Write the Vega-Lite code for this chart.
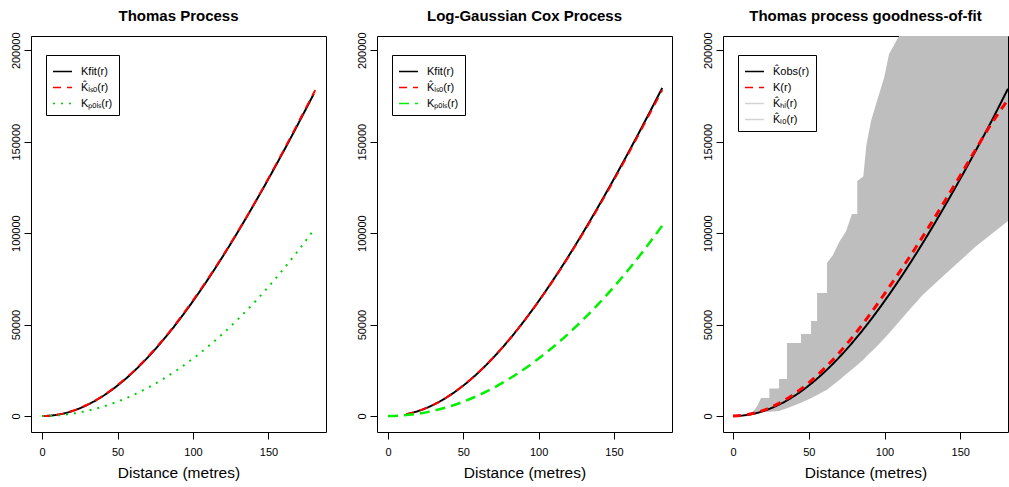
{
  "$schema": "https://vega.github.io/schema/vega-lite/v6.json",
  "padding": {"left": 9, "top": 8, "right": 0, "bottom": 0},
  "background": "white",
  "spacing": 51,
  "bounds": "flush",
  "resolve": {
    "scale": {"color": "independent", "strokeDash": "independent", "x": "independent", "y": "independent"},
    "legend": {"color": "independent", "strokeDash": "independent"}
  },
  "config": {
    "font": "Liberation Sans",
    "view": {"stroke": "#000", "strokeWidth": 1},
    "axis": {
      "domain": false, "grid": false, "ticks": true, "tickColor": "#000", "tickSize": 7, "tickWidth": 1,
      "labelColor": "#000", "labelFont": "Liberation Sans", "labelFontSize": 11,
      "titleFont": "Liberation Sans", "titleFontWeight": "normal", "titleFontSize": 15.5, "titleColor": "#000"
    },
    "axisY": {"labelAngle": 270, "labelAlign": "center", "labelBaseline": "bottom", "labelPadding": 3},
    "axisX": {"labelPadding": 7, "titlePadding": 8},
    "title": {"fontSize": 15, "fontWeight": "bold", "color": "#000", "offset": 8, "font": "Liberation Sans"},
    "legend": {
      "orient": "none", "legendX": 15, "legendY": 19, "strokeColor": "#000", "fillColor": "white", "padding": 6,
      "symbolType": "stroke", "symbolSize": 361, "symbolStrokeWidth": 1.5, "labelFontSize": 11,
      "labelColor": "#000", "labelFont": "Liberation Sans", "rowPadding": -3, "labelOffset": 8, "cornerRadius": 0
    }
  },
  "datasets": {
    "thomas": [
      {"r": 0, "K": 0, "s": "Kfit(r)"}, {"r": 5, "K": 170, "s": "Kfit(r)"}, {"r": 10, "K": 679, "s": "Kfit(r)"}, {"r": 15, "K": 1528, "s": "Kfit(r)"}, {"r": 20, "K": 2712, "s": "Kfit(r)"}, {"r": 30, "K": 6075, "s": "Kfit(r)"}, {"r": 40, "K": 10738, "s": "Kfit(r)"}, {"r": 50, "K": 16654, "s": "Kfit(r)"}, {"r": 60, "K": 23768, "s": "Kfit(r)"}, {"r": 70, "K": 32016, "s": "Kfit(r)"}, {"r": 80, "K": 41326, "s": "Kfit(r)"}, {"r": 90, "K": 51625, "s": "Kfit(r)"}, {"r": 100, "K": 62832, "s": "Kfit(r)"}, {"r": 110, "K": 74854, "s": "Kfit(r)"}, {"r": 120, "K": 87620, "s": "Kfit(r)"}, {"r": 130, "K": 101073, "s": "Kfit(r)"}, {"r": 140, "K": 115131, "s": "Kfit(r)"}, {"r": 150, "K": 129712, "s": "Kfit(r)"}, {"r": 160, "K": 144783, "s": "Kfit(r)"}, {"r": 170, "K": 160283, "s": "Kfit(r)"}, {"r": 180, "K": 176168, "s": "Kfit(r)"},
      {"r": 0, "K": 0, "s": "K̂ᵢₛₒ(r)"}, {"r": 5, "K": 180, "s": "K̂ᵢₛₒ(r)"}, {"r": 10, "K": 700, "s": "K̂ᵢₛₒ(r)"}, {"r": 15, "K": 1560, "s": "K̂ᵢₛₒ(r)"}, {"r": 20, "K": 2750, "s": "K̂ᵢₛₒ(r)"}, {"r": 30, "K": 6150, "s": "K̂ᵢₛₒ(r)"}, {"r": 40, "K": 10850, "s": "K̂ᵢₛₒ(r)"}, {"r": 50, "K": 16900, "s": "K̂ᵢₛₒ(r)"}, {"r": 60, "K": 24000, "s": "K̂ᵢₛₒ(r)"}, {"r": 70, "K": 32300, "s": "K̂ᵢₛₒ(r)"}, {"r": 80, "K": 41600, "s": "K̂ᵢₛₒ(r)"}, {"r": 90, "K": 52000, "s": "K̂ᵢₛₒ(r)"}, {"r": 100, "K": 63300, "s": "K̂ᵢₛₒ(r)"}, {"r": 110, "K": 75200, "s": "K̂ᵢₛₒ(r)"}, {"r": 120, "K": 87900, "s": "K̂ᵢₛₒ(r)"}, {"r": 130, "K": 101300, "s": "K̂ᵢₛₒ(r)"}, {"r": 140, "K": 115300, "s": "K̂ᵢₛₒ(r)"}, {"r": 150, "K": 130000, "s": "K̂ᵢₛₒ(r)"}, {"r": 160, "K": 145200, "s": "K̂ᵢₛₒ(r)"}, {"r": 170, "K": 160900, "s": "K̂ᵢₛₒ(r)"}, {"r": 181, "K": 178200, "s": "K̂ᵢₛₒ(r)"},
      {"r": 0, "K": 0, "s": "Kₚₒᵢₛ(r)"}, {"r": 10, "K": 314, "s": "Kₚₒᵢₛ(r)"}, {"r": 20, "K": 1257, "s": "Kₚₒᵢₛ(r)"}, {"r": 30, "K": 2827, "s": "Kₚₒᵢₛ(r)"}, {"r": 40, "K": 5027, "s": "Kₚₒᵢₛ(r)"}, {"r": 50, "K": 7854, "s": "Kₚₒᵢₛ(r)"}, {"r": 60, "K": 11310, "s": "Kₚₒᵢₛ(r)"}, {"r": 70, "K": 15394, "s": "Kₚₒᵢₛ(r)"}, {"r": 80, "K": 20106, "s": "Kₚₒᵢₛ(r)"}, {"r": 90, "K": 25447, "s": "Kₚₒᵢₛ(r)"}, {"r": 100, "K": 31416, "s": "Kₚₒᵢₛ(r)"}, {"r": 110, "K": 38013, "s": "Kₚₒᵢₛ(r)"}, {"r": 120, "K": 45239, "s": "Kₚₒᵢₛ(r)"}, {"r": 130, "K": 53093, "s": "Kₚₒᵢₛ(r)"}, {"r": 140, "K": 61575, "s": "Kₚₒᵢₛ(r)"}, {"r": 150, "K": 70686, "s": "Kₚₒᵢₛ(r)"}, {"r": 160, "K": 80425, "s": "Kₚₒᵢₛ(r)"}, {"r": 170, "K": 90792, "s": "Kₚₒᵢₛ(r)"}, {"r": 180, "K": 101788, "s": "Kₚₒᵢₛ(r)"}
    ],
    "lgcp": [
      {"r": 12, "K": 978, "s": "Kfit(r)"}, {"r": 15, "K": 1528, "s": "Kfit(r)"}, {"r": 20, "K": 2712, "s": "Kfit(r)"}, {"r": 30, "K": 6075, "s": "Kfit(r)"}, {"r": 40, "K": 10738, "s": "Kfit(r)"}, {"r": 50, "K": 16654, "s": "Kfit(r)"}, {"r": 60, "K": 23768, "s": "Kfit(r)"}, {"r": 70, "K": 32016, "s": "Kfit(r)"}, {"r": 80, "K": 41326, "s": "Kfit(r)"}, {"r": 90, "K": 51625, "s": "Kfit(r)"}, {"r": 100, "K": 62832, "s": "Kfit(r)"}, {"r": 110, "K": 74854, "s": "Kfit(r)"}, {"r": 120, "K": 87620, "s": "Kfit(r)"}, {"r": 130, "K": 101073, "s": "Kfit(r)"}, {"r": 140, "K": 115131, "s": "Kfit(r)"}, {"r": 150, "K": 129712, "s": "Kfit(r)"}, {"r": 160, "K": 144783, "s": "Kfit(r)"}, {"r": 170, "K": 160283, "s": "Kfit(r)"}, {"r": 182, "K": 179360, "s": "Kfit(r)"},
      {"r": 12, "K": 1050, "s": "K̂ᵢₛₒ(r)"}, {"r": 15, "K": 1560, "s": "K̂ᵢₛₒ(r)"}, {"r": 20, "K": 2750, "s": "K̂ᵢₛₒ(r)"}, {"r": 30, "K": 6100, "s": "K̂ᵢₛₒ(r)"}, {"r": 40, "K": 10800, "s": "K̂ᵢₛₒ(r)"}, {"r": 50, "K": 16750, "s": "K̂ᵢₛₒ(r)"}, {"r": 60, "K": 23850, "s": "K̂ᵢₛₒ(r)"}, {"r": 70, "K": 32100, "s": "K̂ᵢₛₒ(r)"}, {"r": 80, "K": 41350, "s": "K̂ᵢₛₒ(r)"}, {"r": 90, "K": 51600, "s": "K̂ᵢₛₒ(r)"}, {"r": 100, "K": 62700, "s": "K̂ᵢₛₒ(r)"}, {"r": 110, "K": 74600, "s": "K̂ᵢₛₒ(r)"}, {"r": 120, "K": 87300, "s": "K̂ᵢₛₒ(r)"}, {"r": 130, "K": 100600, "s": "K̂ᵢₛₒ(r)"}, {"r": 140, "K": 114600, "s": "K̂ᵢₛₒ(r)"}, {"r": 150, "K": 129100, "s": "K̂ᵢₛₒ(r)"}, {"r": 160, "K": 144100, "s": "K̂ᵢₛₒ(r)"}, {"r": 170, "K": 159500, "s": "K̂ᵢₛₒ(r)"}, {"r": 182, "K": 178200, "s": "K̂ᵢₛₒ(r)"},
      {"r": 0, "K": 0, "s": "Kₚₒᵢₛ(r)"}, {"r": 10, "K": 314, "s": "Kₚₒᵢₛ(r)"}, {"r": 20, "K": 1257, "s": "Kₚₒᵢₛ(r)"}, {"r": 30, "K": 2827, "s": "Kₚₒᵢₛ(r)"}, {"r": 40, "K": 5027, "s": "Kₚₒᵢₛ(r)"}, {"r": 50, "K": 7854, "s": "Kₚₒᵢₛ(r)"}, {"r": 60, "K": 11310, "s": "Kₚₒᵢₛ(r)"}, {"r": 70, "K": 15394, "s": "Kₚₒᵢₛ(r)"}, {"r": 80, "K": 20106, "s": "Kₚₒᵢₛ(r)"}, {"r": 90, "K": 25447, "s": "Kₚₒᵢₛ(r)"}, {"r": 100, "K": 31416, "s": "Kₚₒᵢₛ(r)"}, {"r": 110, "K": 38013, "s": "Kₚₒᵢₛ(r)"}, {"r": 120, "K": 45239, "s": "Kₚₒᵢₛ(r)"}, {"r": 130, "K": 53093, "s": "Kₚₒᵢₛ(r)"}, {"r": 140, "K": 61575, "s": "Kₚₒᵢₛ(r)"}, {"r": 150, "K": 70686, "s": "Kₚₒᵢₛ(r)"}, {"r": 160, "K": 80425, "s": "Kₚₒᵢₛ(r)"}, {"r": 170, "K": 90792, "s": "Kₚₒᵢₛ(r)"}, {"r": 182, "K": 104062, "s": "Kₚₒᵢₛ(r)"}
    ],
    "gof": [
      {"r": 0, "K": 0, "s": "K̂obs(r)"}, {"r": 5, "K": 170, "s": "K̂obs(r)"}, {"r": 10, "K": 679, "s": "K̂obs(r)"}, {"r": 15, "K": 1528, "s": "K̂obs(r)"}, {"r": 20, "K": 2712, "s": "K̂obs(r)"}, {"r": 30, "K": 6075, "s": "K̂obs(r)"}, {"r": 40, "K": 10738, "s": "K̂obs(r)"}, {"r": 50, "K": 16654, "s": "K̂obs(r)"}, {"r": 60, "K": 23768, "s": "K̂obs(r)"}, {"r": 70, "K": 32016, "s": "K̂obs(r)"}, {"r": 80, "K": 41326, "s": "K̂obs(r)"}, {"r": 90, "K": 51625, "s": "K̂obs(r)"}, {"r": 100, "K": 62832, "s": "K̂obs(r)"}, {"r": 110, "K": 74854, "s": "K̂obs(r)"}, {"r": 120, "K": 87620, "s": "K̂obs(r)"}, {"r": 130, "K": 101073, "s": "K̂obs(r)"}, {"r": 140, "K": 115131, "s": "K̂obs(r)"}, {"r": 150, "K": 129712, "s": "K̂obs(r)"}, {"r": 160, "K": 144783, "s": "K̂obs(r)"}, {"r": 170, "K": 160283, "s": "K̂obs(r)"}, {"r": 181.5, "K": 179000, "s": "K̂obs(r)"},
      {"r": 0, "K": 0, "s": "K(r)"}, {"r": 10, "K": 779, "s": "K(r)"}, {"r": 20, "K": 3112, "s": "K(r)"}, {"r": 30, "K": 6775, "s": "K(r)"}, {"r": 40, "K": 11738, "s": "K(r)"}, {"r": 50, "K": 18154, "s": "K(r)"}, {"r": 60, "K": 25768, "s": "K(r)"}, {"r": 70, "K": 34516, "s": "K(r)"}, {"r": 80, "K": 44326, "s": "K(r)"}, {"r": 90, "K": 55125, "s": "K(r)"}, {"r": 100, "K": 66832, "s": "K(r)"}, {"r": 110, "K": 78854, "s": "K(r)"}, {"r": 120, "K": 91320, "s": "K(r)"}, {"r": 130, "K": 104373, "s": "K(r)"}, {"r": 140, "K": 117831, "s": "K(r)"}, {"r": 150, "K": 131512, "s": "K(r)"}, {"r": 160, "K": 145483, "s": "K(r)"}, {"r": 170, "K": 159083, "s": "K(r)"}, {"r": 181.5, "K": 173000, "s": "K(r)"}
    ],
    "env": [
      {"r": 12.5, "lo": 1600, "hi": 1600}, {"r": 16, "lo": 1800, "hi": 5500}, {"r": 18.5, "lo": 1950, "hi": 9800}, {"r": 24, "lo": 2300, "hi": 9800}, {"r": 24, "lo": 2300, "hi": 15000}, {"r": 30.4, "lo": 2750, "hi": 15000}, {"r": 30.4, "lo": 2750, "hi": 20200}, {"r": 35.6, "lo": 4300, "hi": 20200}, {"r": 35.6, "lo": 4300, "hi": 39900}, {"r": 44.9, "lo": 7200, "hi": 39900}, {"r": 44.9, "lo": 7200, "hi": 44800}, {"r": 51.5, "lo": 9700, "hi": 44800}, {"r": 51.5, "lo": 9700, "hi": 52000}, {"r": 55.5, "lo": 11500, "hi": 52000}, {"r": 55.5, "lo": 11500, "hi": 67300}, {"r": 62, "lo": 14300, "hi": 67300}, {"r": 62, "lo": 14300, "hi": 83700}, {"r": 66, "lo": 17000, "hi": 88000}, {"r": 70, "lo": 19500, "hi": 95000}, {"r": 74.6, "lo": 22800, "hi": 101000}, {"r": 78.5, "lo": 25400, "hi": 110500}, {"r": 82, "lo": 27900, "hi": 110500}, {"r": 82, "lo": 27900, "hi": 128500}, {"r": 86, "lo": 30800, "hi": 131000}, {"r": 88, "lo": 32500, "hi": 148000}, {"r": 91.1, "lo": 35000, "hi": 161300}, {"r": 95, "lo": 38200, "hi": 172300}, {"r": 99.7, "lo": 42200, "hi": 184900}, {"r": 103, "lo": 45300, "hi": 198000}, {"r": 109.6, "lo": 51600, "hi": 207800}, {"r": 115, "lo": 56700, "hi": 225000}, {"r": 125, "lo": 66000, "hi": 250000}, {"r": 140, "lo": 77500, "hi": 280000}, {"r": 160, "lo": 92500, "hi": 310000}, {"r": 181.5, "lo": 106600, "hi": 340000}
    ]
  },
  "hconcat": [
    {
      "width": 295, "height": 396,
      "title": {"text": "Thomas Process"},
      "data": {"name": "thomas"},
      "encoding": {
        "x": {"field": "r", "type": "quantitative", "scale": {"domain": [-7.3, 188.1], "nice": false, "zero": false}, "axis": {"values": [0, 50, 100, 150], "title": "Distance (metres)"}},
        "y": {"field": "K", "type": "quantitative", "scale": {"domain": [-8750, 207800], "nice": false, "zero": false}, "axis": {"values": [0, 50000, 100000, 150000, 200000], "format": "d", "title": null}},
        "color": {"field": "s", "type": "nominal", "scale": {"domain": ["Kfit(r)", "K̂ᵢₛₒ(r)", "Kₚₒᵢₛ(r)"], "range": ["#000000", "#ff0000", "#00d000"]}, "legend": {"title": null}},
        "strokeDash": {"field": "s", "type": "nominal", "scale": {"domain": ["Kfit(r)", "K̂ᵢₛₒ(r)", "Kₚₒᵢₛ(r)"], "range": [[1, 0], [8, 6], [2, 6]]}, "legend": {"title": null}}
      },
      "layer": [
        {"transform": [{"filter": "datum.s === 'Kfit(r)'"}], "mark": {"type": "line", "strokeWidth": 2, "clip": true, "interpolate": "monotone"}},
        {"transform": [{"filter": "datum.s === 'K̂ᵢₛₒ(r)'"}], "mark": {"type": "line", "strokeWidth": 2, "clip": true, "interpolate": "monotone"}},
        {"transform": [{"filter": "datum.s === 'Kₚₒᵢₛ(r)'"}], "mark": {"type": "line", "strokeWidth": 2, "clip": true, "interpolate": "monotone"}}
      ]
    },
    {
      "width": 295, "height": 396,
      "title": {"text": "Log-Gaussian Cox Process"},
      "data": {"name": "lgcp"},
      "encoding": {
        "x": {"field": "r", "type": "quantitative", "scale": {"domain": [-7.3, 188.5], "nice": false, "zero": false}, "axis": {"values": [0, 50, 100, 150], "title": "Distance (metres)"}},
        "y": {"field": "K", "type": "quantitative", "scale": {"domain": [-8750, 207800], "nice": false, "zero": false}, "axis": {"values": [0, 50000, 100000, 150000, 200000], "format": "d", "title": null}},
        "color": {"field": "s", "type": "nominal", "scale": {"domain": ["Kfit(r)", "K̂ᵢₛₒ(r)", "Kₚₒᵢₛ(r)"], "range": ["#000000", "#ff0000", "#00f000"]}, "legend": {"title": null}},
        "strokeDash": {"field": "s", "type": "nominal", "scale": {"domain": ["Kfit(r)", "K̂ᵢₛₒ(r)", "Kₚₒᵢₛ(r)"], "range": [[1, 0], [8, 6], [10, 6]]}, "legend": {"title": null}}
      },
      "layer": [
        {"transform": [{"filter": "datum.s === 'Kfit(r)'"}], "mark": {"type": "line", "strokeWidth": 2, "clip": true, "interpolate": "monotone"}},
        {"transform": [{"filter": "datum.s === 'K̂ᵢₛₒ(r)'"}], "mark": {"type": "line", "strokeWidth": 2, "clip": true, "interpolate": "monotone"}},
        {"transform": [{"filter": "datum.s === 'Kₚₒᵢₛ(r)'"}], "mark": {"type": "line", "strokeWidth": 2.5, "clip": true, "interpolate": "monotone"}}
      ]
    },
    {
      "width": 285, "height": 396,
      "title": {"text": "Thomas process goodness-of-fit"},
      "layer": [
        {
          "data": {"name": "env"},
          "mark": {"type": "area", "color": "#bebebe", "opacity": 1, "clip": true},
          "encoding": {
            "x": {"field": "r", "type": "quantitative", "scale": {"domain": [-6.6, 181.5], "nice": false, "zero": false}, "axis": {"values": [0, 50, 100, 150], "title": "Distance (metres)"}},
            "y": {"field": "hi", "type": "quantitative", "scale": {"domain": [-8750, 207800], "nice": false, "zero": false}, "axis": {"values": [0, 50000, 100000, 150000, 200000], "format": "d", "title": null}},
            "y2": {"field": "lo"}
          }
        },
        {
          "data": {"name": "gof"},
          "encoding": {
            "x": {"field": "r", "type": "quantitative"},
            "y": {"field": "K", "type": "quantitative"},
            "color": {"field": "s", "type": "nominal", "scale": {"domain": ["K̂obs(r)", "K(r)", "K̂ₕᵢ(r)", "K̂ₗₒ(r)"], "range": ["#000000", "#ff0000", "#d3d3d3", "#d3d3d3"]}, "legend": {"title": null}},
            "strokeDash": {"field": "s", "type": "nominal", "scale": {"domain": ["K̂obs(r)", "K(r)", "K̂ₕᵢ(r)", "K̂ₗₒ(r)"], "range": [[1, 0], [8, 6], [1, 0], [1, 0]]}, "legend": {"title": null}}
          },
          "layer": [
            {"transform": [{"filter": "datum.s === 'K̂obs(r)'"}], "mark": {"type": "line", "strokeWidth": 2, "clip": true, "interpolate": "monotone"}},
            {"transform": [{"filter": "datum.s === 'K(r)'"}], "mark": {"type": "line", "strokeWidth": 3, "clip": true, "interpolate": "monotone"}}
          ]
        }
      ]
    }
  ]
}
